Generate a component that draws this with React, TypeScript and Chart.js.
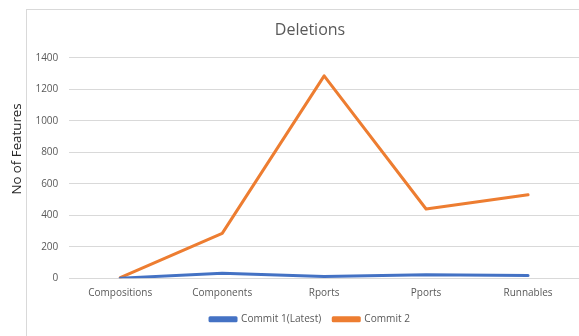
import React, { useEffect, useRef } from "react";
import { Chart, registerables } from "chart.js";

Chart.register(...registerables);

const categories = ["Compositions", "Components", "Rports", "Pports", "Runnables"];
const commit1Values = [1, 32, 12, 22, 17];
const commit2Values = [5, 285, 1285, 440, 530];
const seriesLabels = ["Commit 1(Latest)", "Commit 2"];
const seriesColors = ["#4472C4", "#ED7D31"];
const yTicksMax = 1400;
const yTickStep = 200;
const chartTitle = "Deletions";
const yAxisTitle = "No of Features";

const FONT = "'Open Sans', 'Noto Sans', sans-serif";
const CANVAS_W = 620;
const CANVAS_H = 336;

// outer frame of the chart object and the rotated value-axis caption
const framePlugin = {
  id: "frameAndAxisTitle",
  beforeDraw(chart: Chart) {
    const { ctx } = chart;
    ctx.save();
    ctx.fillStyle = "#ffffff";
    ctx.fillRect(0, 0, chart.width, chart.height);
    ctx.strokeStyle = "#d9d9d9";
    ctx.lineWidth = 1;
    ctx.strokeRect(26.5, 9.5, chart.width + 50, chart.height + 50);
    ctx.restore();
  },
  afterDraw(chart: Chart) {
    const { ctx } = chart;
    ctx.save();
    ctx.translate(17.5, 149);
    ctx.rotate(-Math.PI / 2);
    ctx.font = `13.3px ${FONT}`;
    ctx.fillStyle = "#262626";
    ctx.textAlign = "center";
    ctx.textBaseline = "middle";
    ctx.fillText(yAxisTitle, 0, 0);
    ctx.restore();
  },
};

export default function App() {
  const canvasRef = useRef<HTMLCanvasElement | null>(null);

  useEffect(() => {
    if (!canvasRef.current) return;
    const chart = new Chart(canvasRef.current, {
      type: "line",
      data: {
        labels: categories,
        datasets: [
          {
            label: seriesLabels[0],
            data: commit1Values,
            borderColor: seriesColors[0],
            backgroundColor: seriesColors[0],
            borderWidth: 3,
            pointRadius: 0,
            pointHoverRadius: 0,
            tension: 0,
            borderJoinStyle: "round",
            borderCapStyle: "round",
            yAxisID: "y",
          },
          {
            label: seriesLabels[1],
            data: commit2Values,
            borderColor: seriesColors[1],
            backgroundColor: seriesColors[1],
            borderWidth: 3,
            pointRadius: 0,
            pointHoverRadius: 0,
            tension: 0,
            borderJoinStyle: "round",
            borderCapStyle: "round",
            yAxisID: "y",
          },
        ],
      },
      options: {
        responsive: false,
        animation: false,
        devicePixelRatio: 1,
        layout: { padding: { left: 0, right: 0, top: 0, bottom: 1.75 } },
        plugins: {
          title: {
            display: true,
            text: chartTitle,
            color: "#595959",
            font: { family: FONT, size: 16, weight: "normal" },
            padding: { top: 21.1, bottom: 17.4 },
          },
          legend: {
            display: true,
            position: "bottom",
            labels: {
              boxWidth: 26,
              boxHeight: 3,
              padding: 12,
              color: "#595959",
              font: { family: FONT, size: 10.1 },
            },
          },
          tooltip: { enabled: false },
        },
        scales: {
          x: {
            offset: true,
            grid: { display: false, drawTicks: false },
            border: { display: false },
            ticks: {
              color: "#595959",
              font: { family: FONT, size: 10 },
              padding: 9,
              maxRotation: 0,
              autoSkip: false,
            },
            afterFit(scale: any) {
              scale.height = 23.85;
            },
          },
          y: {
            position: "left",
            min: 0,
            max: yTicksMax,
            grid: { color: "#d9d9d9", lineWidth: 1, drawTicks: false },
            border: { display: false },
            ticks: {
              stepSize: yTickStep,
              color: "#595959",
              font: { family: FONT, size: 10 },
              padding: 11,
              callback: (value: any) => String(value),
            },
            afterFit(scale: any) {
              scale.width = 69.3;
            },
          },
          yRight: {
            position: "right",
            display: true,
            grid: { display: false, drawTicks: false },
            border: { display: false },
            ticks: { display: false },
            afterFit(scale: any) {
              scale.width = CANVAS_W - 579;
            },
          },
        },
      },
      plugins: [framePlugin],
    });
    return () => chart.destroy();
  }, []);

  return (
    <div
      style={{
        position: "fixed",
        left: 0,
        top: 0,
        width: 579,
        height: CANVAS_H,
        overflow: "hidden",
        background: "#ffffff",
      }}
    >
      <canvas ref={canvasRef} width={CANVAS_W} height={CANVAS_H} style={{ display: "block" }} />
    </div>
  );
}
